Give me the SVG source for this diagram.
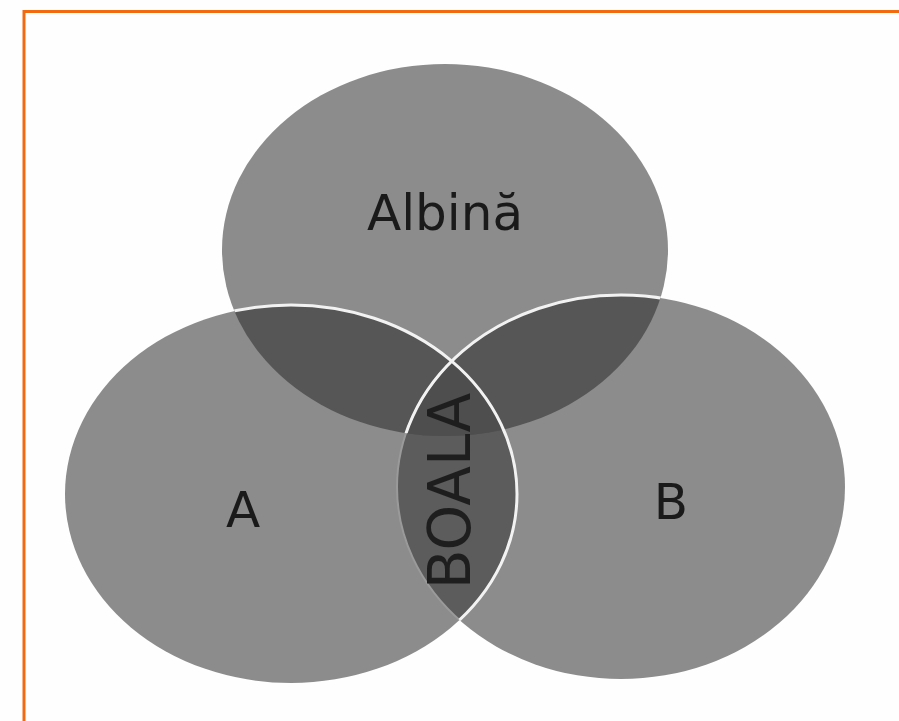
<svg xmlns="http://www.w3.org/2000/svg" width="899" height="721" viewBox="0 0 899 721">
  <style>
    .fill1 { fill: #8c8c8c; }
    .fill2 { fill: #565656; }
    .fill3 { fill: #4e4e4e; }
    .lens { fill: #5c5c5c; }
    .label { font-family: "DejaVu Sans", "Liberation Sans", sans-serif; font-size: 50px; fill: #1a1a1a; text-anchor: middle; }
    .hand { font-family: "DejaVu Sans", "Liberation Sans", sans-serif; font-size: 58px; fill: #1e1e1e; text-anchor: middle; }
    .edge { fill: none; stroke: #f2f2f2; stroke-width: 3; }
    .faint { fill: none; stroke: #9a9a9a; stroke-width: 2; }
  </style>
  <defs>
    <clipPath id="clipTop"><ellipse cx="445" cy="250" rx="223" ry="186"/></clipPath>
    <clipPath id="clipLeft"><ellipse cx="291" cy="494" rx="226" ry="189"/></clipPath>
    <clipPath id="clipRight"><ellipse cx="621" cy="487" rx="224" ry="192"/></clipPath>
    <clipPath id="clipTopRight">
      <ellipse cx="445" cy="250" rx="223" ry="186"/>
      <ellipse cx="621" cy="487" rx="224" ry="192"/>
    </clipPath>
  </defs>
  <rect x="0" y="0" width="899" height="721" fill="#fefefe"/>
  <rect x="24" y="11.5" width="900" height="720" fill="none" stroke="#f26a10" stroke-width="3"/>

  <g id="node-albina">
    <ellipse class="fill1" cx="445" cy="250" rx="223" ry="186"/>
  </g>
  <g id="node-a">
    <ellipse class="fill1" cx="291" cy="494" rx="226" ry="189"/>
  </g>
  <g id="node-b">
    <ellipse class="fill1" cx="621" cy="487" rx="224" ry="192"/>
  </g>

  <g id="overlaps">
    <ellipse class="lens" cx="291" cy="494" rx="226" ry="189" clip-path="url(#clipRight)"/>
    <ellipse class="fill2" cx="291" cy="494" rx="226" ry="189" clip-path="url(#clipTop)"/>
    <ellipse class="fill2" cx="621" cy="487" rx="224" ry="192" clip-path="url(#clipTop)"/>
    <g clip-path="url(#clipTop)">
      <ellipse class="fill3" cx="291" cy="494" rx="226" ry="189" clip-path="url(#clipRight)"/>
    </g>
  </g>

  <g id="connectors">
    <ellipse class="faint" cx="621" cy="487" rx="224" ry="192" clip-path="url(#clipLeft)"/>
    <ellipse class="edge" cx="621" cy="487" rx="224" ry="192" clip-path="url(#clipTop)"/>
    <ellipse class="edge" cx="291" cy="494" rx="226" ry="189" clip-path="url(#clipTopRight)"/>
  </g>

  <g id="labels">
    <text class="label" x="445" y="230">Albină</text>
    <text class="label" x="243" y="527">A</text>
    <text class="label" x="671" y="519">B</text>
    <text id="node-boala" class="hand" transform="translate(470,491) rotate(-90)" x="0" y="0">BOALA</text>
  </g>
</svg>
